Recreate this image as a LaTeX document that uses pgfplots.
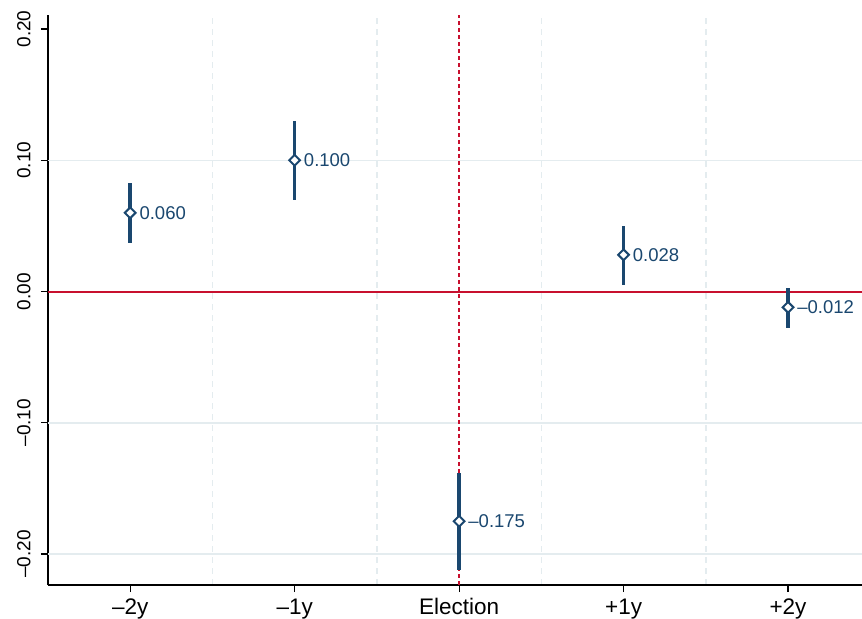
\documentclass[border=0pt]{standalone}
\usepackage{fontspec}
\setmainfont{Liberation Sans}
\usepackage{pgfplots}
\usepackage{pgfplotstable}
\pgfplotsset{compat=1.18}
\definecolor{navy}{HTML}{1A476F}
\definecolor{redline}{HTML}{C8102E}
\definecolor{gridc}{HTML}{E4ECEF}
\pgfplotstableread{
x y ep em lab
0 0.060 0.023 0.023 {0.060}
1 0.100 0.030 0.030 {0.100}
2 -0.175 0.037 0.037 {–0.175}
3 0.028 0.022 0.023 {0.028}
4 -0.012 0.015 0.016 {–0.012}
}\coefs
\begin{document}
\begin{tikzpicture}
\path[use as bounding box] (-48bp,-34bp) rectangle (814bp,585bp);
\begin{axis}[at={(0,0)}, anchor=south west, scale only axis,
  width=814bp, height=570bp,
  xmin=-0.5, xmax=4.45, ymin=-0.2236, ymax=0.2107,
  axis x line*=bottom, axis y line*=left,
  axis line style={line width=1.2bp, black, -},
  xtick={0,1,2,3,4}, xticklabels={–2y,–1y,Election,+1y,+2y},
  ytick={-0.2,-0.1,0,0.1,0.2}, yticklabels={–0.20,–0.10,0.00,0.10,0.20},
  extra y ticks={-0.2,-0.1,0.1}, extra y tick labels={},
  extra y tick style={ymajorgrids=true, major tick length=0pt},
  tick align=outside, major tick length=7bp,
  tick style={black, line width=1.2bp},
  minor xtick={0.5,1.5,2.5,3.5}, minor tick length=0pt,
  xminorgrids=true,
  minor x grid style={gridc, dash pattern=on 6bp off 5bp, line width=1.5bp},
  major grid style={gridc, line width=1.5bp},
  xticklabel shift=3bp, yticklabel shift=7bp,
  xticklabel style={font=\fontsize{22.5bp}{26bp}\selectfont, text=black},
  yticklabel style={font=\fontsize{19bp}{22bp}\selectfont, rotate=90, anchor=south, text=black},
  clip=false,
]
\addplot[redline, line width=2bp, forget plot] coordinates {(-0.5,0) (4.45,0)};
\addplot[redline, line width=1.8bp, dash pattern=on 4bp off 3bp, forget plot] coordinates {(2,-0.2236) (2,0.2107)};
\addplot[navy, only marks, mark=square*, mark size=3.8bp,
  mark options={fill=white, draw=navy, line width=2bp, solid, rotate=45},
  point meta=explicit symbolic,
  nodes near coords,
  nodes near coords style={anchor=west, xshift=5bp, font=\fontsize{18.5bp}{22bp}\selectfont, text=navy},
  error bars/.cd, y dir=both, y explicit, error mark=none,
  error bar style={line width=3.5bp, navy, solid}]
  table[x=x, y=y, y error plus=ep, y error minus=em, meta=lab] {\coefs};
\end{axis}
\end{tikzpicture}
\end{document}
